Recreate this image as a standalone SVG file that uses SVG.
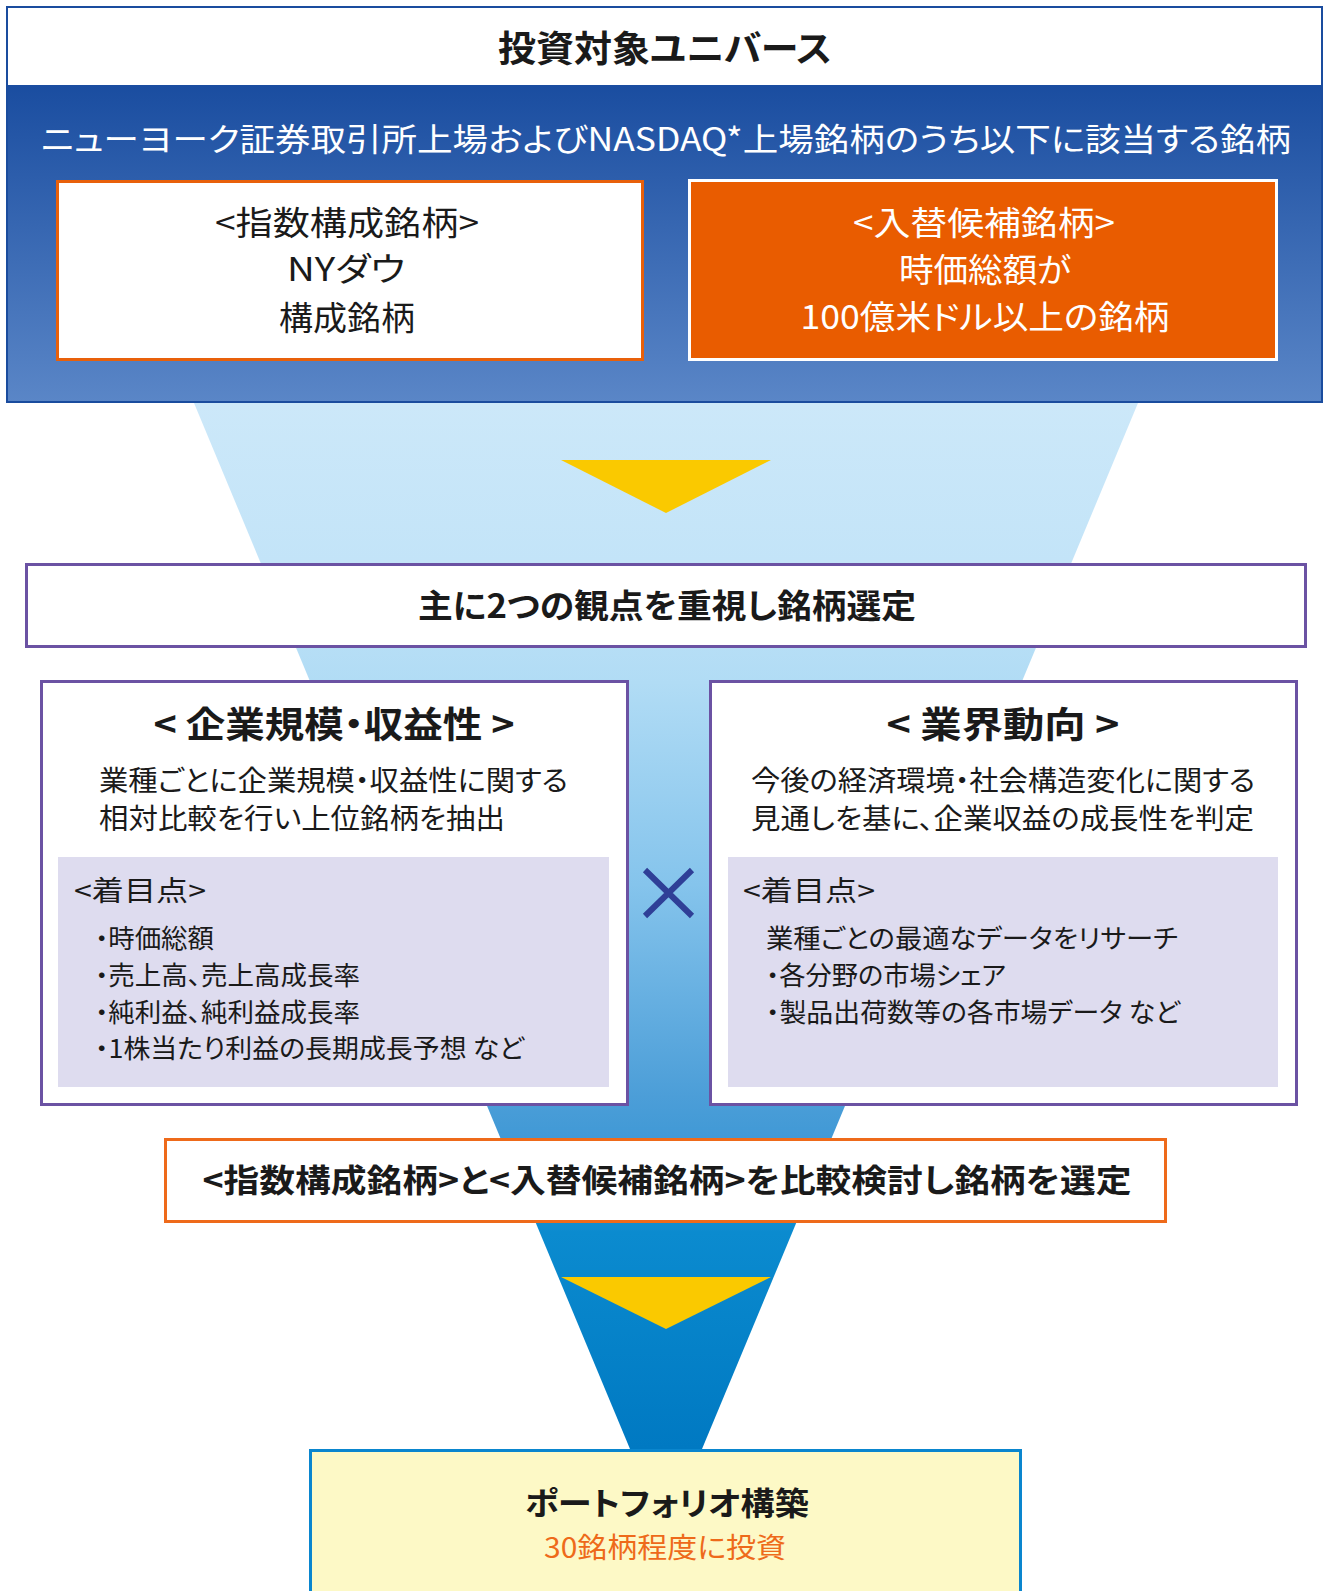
<svg xmlns="http://www.w3.org/2000/svg" width="1324" height="1591" viewBox="0 0 1324 1591">
<style>
text{font-family:"Noto Sans CJK JP","Noto Sans",sans-serif;fill:#1a1a1a;font-feature-settings:"palt" 1}
.b{font-weight:700}
.m{font-weight:600}
.w{fill:#ffffff}
.c{text-anchor:middle}
.purple{fill:#ffffff;stroke:#6B52A3;stroke-width:3}
.gray{fill:#DEDCEF}
.tri{fill:#FAC900}
</style>
<defs>
<linearGradient id="gBlue" x1="0" y1="85" x2="0" y2="402" gradientUnits="userSpaceOnUse">
<stop offset="0" stop-color="#1A4DA0"/>
<stop offset="1" stop-color="#5A86C7"/>
</linearGradient>
<linearGradient id="gFunnel" x1="0" y1="403" x2="0" y2="1449" gradientUnits="userSpaceOnUse">
<stop offset="0" stop-color="#CCE8F9"/>
<stop offset="0.151" stop-color="#C3E4F8"/>
<stop offset="0.267" stop-color="#B1DCF5"/>
<stop offset="0.46" stop-color="#85C4EC"/>
<stop offset="0.662" stop-color="#4C9ED8"/>
<stop offset="0.711" stop-color="#3E98D5"/>
<stop offset="0.793" stop-color="#0B8BCF"/>
<stop offset="1" stop-color="#0079C2"/>
</linearGradient>
</defs>

<g id="funnel">
<polygon points="194,403 1138,403 702,1449 630,1449" fill="url(#gFunnel)"/>
<polygon class="tri" points="561,460 771,460 666,513"/>
<polygon class="tri" points="561,1277 771,1277 666,1329"/>
</g>

<g id="universe">
<rect x="7" y="7" width="1315" height="395" fill="url(#gBlue)" stroke="#1A4C9E" stroke-width="2"/>
<rect x="8" y="8" width="1313" height="77" fill="#ffffff"/>
<text class="b c" x="665" y="62" font-size="36" textLength="334" lengthAdjust="spacingAndGlyphs">投資対象ユニバース</text>
<text class="w c" x="666" y="151" font-size="32" textLength="1250" lengthAdjust="spacingAndGlyphs">ニューヨーク証券取引所上場およびNASDAQ*上場銘柄のうち以下に該当する銘柄</text>
</g>

<g id="index-stocks">
<rect x="57.5" y="181.5" width="585" height="178" fill="#ffffff" stroke="#E8600A" stroke-width="3"/>
<text class="c" x="347" y="235" font-size="33" textLength="264" lengthAdjust="spacingAndGlyphs">&lt;指数構成銘柄&gt;</text>
<text class="c" x="346" y="281" font-size="33" textLength="118" lengthAdjust="spacingAndGlyphs">NYダウ</text>
<text class="c" x="347" y="330" font-size="33" textLength="136" lengthAdjust="spacingAndGlyphs">構成銘柄</text>
</g>

<g id="candidate-stocks">
<rect x="689.5" y="180.5" width="587" height="179" fill="#E95C00" stroke="#ffffff" stroke-width="3"/>
<text class="w c" x="984" y="235" font-size="33" textLength="262" lengthAdjust="spacingAndGlyphs">&lt;入替候補銘柄&gt;</text>
<text class="w c" x="985" y="282" font-size="33" textLength="172" lengthAdjust="spacingAndGlyphs">時価総額が</text>
<text class="w c" x="985" y="329" font-size="33" textLength="369" lengthAdjust="spacingAndGlyphs">100億米ドル以上の銘柄</text>
</g>

<g id="two-viewpoints">
<rect class="purple" x="26.5" y="564.5" width="1279" height="82"/>
<text class="b c" x="667" y="618" font-size="33" textLength="498" lengthAdjust="spacingAndGlyphs">主に2つの観点を重視し銘柄選定</text>
</g>

<g id="scale-profitability">
<rect class="purple" x="41.5" y="681.5" width="586" height="423"/>
<text class="b c" x="334" y="738" font-size="36" textLength="361" lengthAdjust="spacingAndGlyphs">&lt; 企業規模・収益性 &gt;</text>
<text x="99" y="791" font-size="28" textLength="469" lengthAdjust="spacingAndGlyphs">業種ごとに企業規模・収益性に関する</text>
<text x="99" y="829" font-size="28" textLength="406" lengthAdjust="spacingAndGlyphs">相対比較を行い上位銘柄を抽出</text>
<rect class="gray" x="58" y="857" width="551" height="230"/>
<text x="74" y="901" font-size="28" textLength="132" lengthAdjust="spacingAndGlyphs">&lt;着目点&gt;</text>
<text x="95" y="948" font-size="26" textLength="119" lengthAdjust="spacingAndGlyphs">・時価総額</text>
<text x="95" y="985" font-size="26" textLength="265" lengthAdjust="spacingAndGlyphs">・売上高、売上高成長率</text>
<text x="95" y="1022" font-size="26" textLength="265" lengthAdjust="spacingAndGlyphs">・純利益、純利益成長率</text>
<text x="95" y="1058" font-size="26" textLength="429" lengthAdjust="spacingAndGlyphs">・1株当たり利益の長期成長予想 など</text>
</g>

<g id="cross">
<path d="M645,870 L692,916 M692,870 L645,916" stroke="#2F3F97" stroke-width="6" fill="none"/>
</g>

<g id="industry-trends">
<rect class="purple" x="710.5" y="681.5" width="586" height="423"/>
<text class="b c" x="1003" y="738" font-size="36" textLength="233" lengthAdjust="spacingAndGlyphs">&lt; 業界動向 &gt;</text>
<text x="751" y="791" font-size="28" textLength="504" lengthAdjust="spacingAndGlyphs">今後の経済環境・社会構造変化に関する</text>
<text x="751" y="829" font-size="28" textLength="503" lengthAdjust="spacingAndGlyphs">見通しを基に、企業収益の成長性を判定</text>
<rect class="gray" x="728" y="857" width="550" height="230"/>
<text x="743" y="901" font-size="28" textLength="132" lengthAdjust="spacingAndGlyphs">&lt;着目点&gt;</text>
<text x="766" y="948" font-size="26" textLength="412" lengthAdjust="spacingAndGlyphs">業種ごとの最適なデータをリサーチ</text>
<text x="766" y="985" font-size="26" textLength="240" lengthAdjust="spacingAndGlyphs">・各分野の市場シェア</text>
<text x="766" y="1022" font-size="26" textLength="414" lengthAdjust="spacingAndGlyphs">・製品出荷数等の各市場データ など</text>
</g>

<g id="compare-select">
<rect x="165.5" y="1139.5" width="1000" height="82" fill="#ffffff" stroke="#EE6A1A" stroke-width="3"/>
<text class="m c" x="667" y="1192" font-size="32" textLength="929" lengthAdjust="spacingAndGlyphs">&lt;指数構成銘柄&gt;と&lt;入替候補銘柄&gt;を比較検討し銘柄を選定</text>
</g>

<g id="portfolio">
<rect x="310.5" y="1450.5" width="710" height="150" fill="#FDF9C6" stroke="#0A86CE" stroke-width="3"/>
<text class="b c" x="667" y="1515" font-size="32" textLength="284" lengthAdjust="spacingAndGlyphs">ポートフォリオ構築</text>
<text class="c" x="665" y="1558" font-size="28" textLength="242" lengthAdjust="spacingAndGlyphs" style="fill:#EE6A1A">30銘柄程度に投資</text>
</g>

<g id="connectors"></g>
</svg>
